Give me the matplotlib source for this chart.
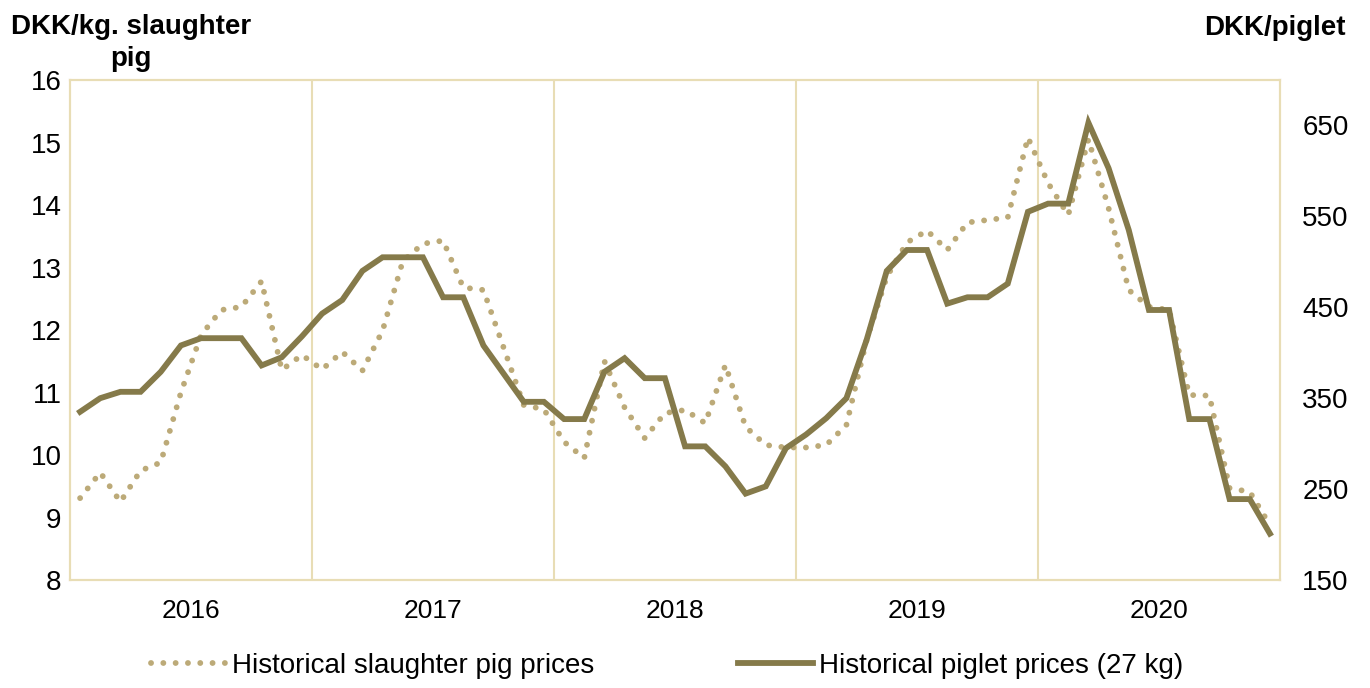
import matplotlib.pyplot as plt
import numpy as np

plt.rcParams['font.family'] = ['Liberation Sans', 'DejaVu Sans']

# monthly values Jan 2016 - Dec 2020
years = ['2016', '2017', '2018', '2019', '2020']

slaughter = [
    9.31, 9.72, 9.25, 9.75, 9.88, 11.00, 11.92, 12.32, 12.37, 12.78, 11.36, 11.60,
    11.37, 11.65, 11.35, 11.99, 13.10, 13.38, 13.43, 12.68, 12.64, 11.72, 10.80, 10.73,
    10.21, 9.95, 11.50, 10.76, 10.27, 10.67, 10.72, 10.51, 11.44, 10.45, 10.16, 10.12,
    10.12, 10.16, 10.48, 11.84, 12.85, 13.40, 13.59, 13.28, 13.72, 13.76, 13.80, 15.08,
    14.35, 13.84, 15.05, 13.95, 12.64, 12.37, 12.32, 10.96, 10.95, 9.47, 9.41, 8.88,
]

piglet = [
    335, 350, 357, 357, 379, 408, 416, 416, 416, 386, 395, 418,
    443, 458, 490, 505, 505, 505, 461, 461, 408, 377, 346, 346,
    327, 327, 379, 394, 372, 372, 297, 297, 275, 245, 253, 295,
    310, 328, 350, 414, 490, 513, 513, 454, 461, 461, 476, 555,
    564, 564, 653, 603, 535, 447, 447, 327, 327, 239, 239, 201,
]

SOLID = '#857A4A'
DOTTED = '#BCAA78'
GRID = '#E8DDB5'

fig = plt.figure(figsize=(13.7, 6.88), dpi=100)
ax = fig.add_axes([70 / 1370, 1 - 580 / 688, 1210 / 1370, 500 / 688])
ax2 = ax.twinx()

x = np.arange(len(slaughter))
ax.plot(x, slaughter, color=DOTTED, linewidth=4.2, linestyle=(0, (0.01, 2.1)),
        dash_capstyle='round', label='Historical slaughter pig prices', zorder=3)
ax2.plot(x, piglet, color=SOLID, linewidth=4.2, solid_joinstyle='miter',
         label='Historical piglet prices (27 kg)', zorder=3)

ax.set_xlim(-0.5, len(x) - 0.5)
ax.set_ylim(8, 16)
ax.set_yticks(range(8, 17))
ax2.set_ylim(150, 700)
ax2.set_yticks(range(150, 651, 100))

# year separators
for b in range(1, len(years)):
    ax.axvline(12 * b - 0.5, color=GRID, linewidth=1.5, zorder=1)
ax.set_xticks([12 * i + 5.5 for i in range(len(years))])
ax.set_xticklabels(years)

for a in (ax, ax2):
    for s in a.spines.values():
        s.set_color(GRID)
        s.set_linewidth(1.5)
    a.tick_params(length=0)
ax.tick_params(axis='y', labelsize=20, pad=6)
ax.tick_params(axis='x', labelsize=19, pad=14)
ax2.tick_params(axis='y', labelsize=20, pad=16)

fig.text(131 / 1370, 1 - 43 / 688, 'DKK/kg. slaughter\npig', ha='center', va='center',
         fontsize=20, fontweight='bold', linespacing=1.25)
fig.text(1275 / 1370, 1 - 28 / 688, 'DKK/piglet', ha='center', va='center',
         fontsize=20, fontweight='bold')

h1, l1 = ax.get_legend_handles_labels()
h2, l2 = ax2.get_legend_handles_labels()
fig.legend(h1 + h2, l1 + l2, loc='center', bbox_to_anchor=(667 / 1370, 1 - 666 / 688),
           ncol=2, frameon=False, fontsize=20, columnspacing=5.2, handlelength=2.7,
           handletextpad=0.2)

fig.savefig('out.png', dpi=100)
